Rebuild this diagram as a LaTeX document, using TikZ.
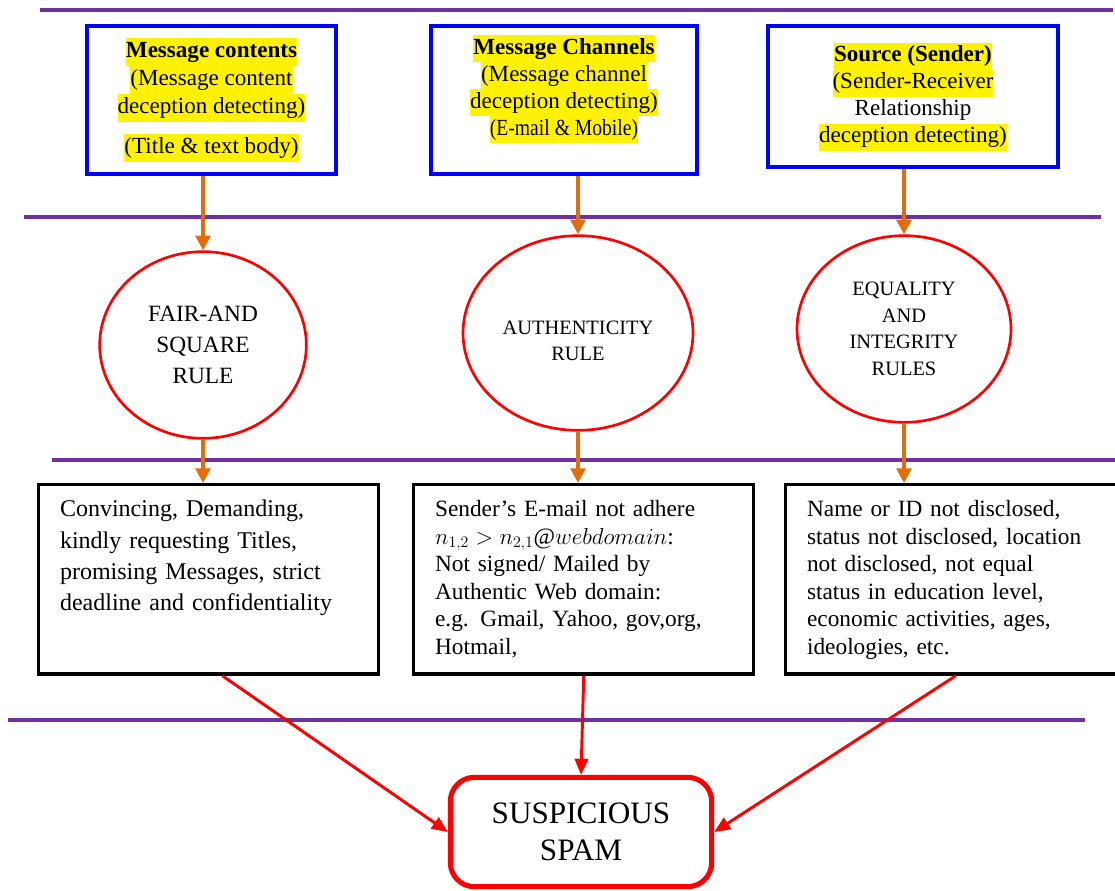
\documentclass[tikz,border=0pt]{standalone}
\usepackage{fontspec}
\setmainfont{Liberation Serif}
\usetikzlibrary{positioning, shapes.geometric, arrows.meta, calc}

\definecolor{sepcol}{HTML}{7030A0}
\definecolor{flowor}{HTML}{E46C0A}
\definecolor{boxblue}{HTML}{0000FF}

% yellow highlight of one line
\newcommand{\hy}[1]{{\setlength{\fboxsep}{0pt}\colorbox{yellow}{\strut #1}}}

\begin{document}
\begin{tikzpicture}[
	x=0.75pt, y=-0.75pt,
	% --- Styles ---
	topbox/.style={
		rectangle, draw=boxblue, line width=3pt, anchor=north west,
		inner sep=0pt, align=center, font=\fontsize{17.3}{20.25}\selectfont
	},
	rulebubble/.style={
		ellipse, draw=red, line width=2pt, inner sep=0pt, align=center,
		font=\fontsize{15.3}{20}\selectfont
	},
	cuebox/.style={
		rectangle, draw=black, line width=2.6pt, anchor=north west, align=left,
		text width=223pt, inner xsep=16pt, inner ysep=10pt,
		text height=14pt, text depth=108pt, font=\fontsize{17.5}{20.6}\selectfont
	},
	spambox/.style={
		rectangle, draw=red, line width=3.8pt, rounded corners=18pt,
		minimum width=196pt, minimum height=82pt, align=center,
		font=\fontsize{23.4}{27.75}\selectfont
	},
	sepline/.style={draw=sepcol, line width=3pt},
	feed/.style={draw=flowor, line width=2.8pt, -{Triangle[length=11pt,width=11pt]}},
	verdict/.style={draw=red, line width=2.2pt, -{Triangle[length=12pt,width=10pt]}}
	]
	\useasboundingbox (0,0) rectangle (1115,890);
	
	% --- Separator lines ---
	\draw [sepline] (40,9.5) -- (1113,9.5);
	\draw [sepline] (24,217) -- (1101,217);
	\draw [sepline] (52,460) -- (1115,460);
	\draw [sepline] (8,720) -- (1085,720);
	
	% --- 1. Deception sources ---
	\node [topbox, minimum width=186.75pt, minimum height=111pt, font=\fontsize{17.3}{21}\selectfont] (content) at (85,24)
	{\hy{\textbf{Message contents}}\\\hy{(Message content}\\\hy{deception detecting)}\\[9pt]\hy{(Title \& text body)}};
	\node [topbox, minimum width=199.5pt, minimum height=111pt] (channel) at (429,24)
	{\hy{\textbf{Message Channels}}\\\hy{(Message channel}\\\hy{deception detecting)}\\\hy{\scalebox{0.85}[1]{(E-mail \& Mobile)}}\rule[-22pt]{0pt}{0pt}};
	\node [topbox, minimum width=217.5pt, minimum height=105.75pt] (sender) at (766,24)
	{\hy{\textbf{Source (Sender)}}\\\hy{(Sender-Receiver}\\\strut Relationship\\\hy{deception detecting)}};
	
	% --- 2. Rules ---
	\node [rulebubble, minimum width=155pt, minimum height=140pt, font=\fontsize{17.5}{23}\selectfont] (fair) at (203,345) {FAIR-AND\\SQUARE\\RULE};
	\node [rulebubble, minimum width=172.5pt, minimum height=146pt, font=\fontsize{15.3}{19}\selectfont] (auth) at (578,333) {\rule{0pt}{22pt}AUTHENTICITY\\RULE};
	\node [rulebubble, minimum width=160.5pt, minimum height=140pt] (equal) at (904,329) {EQUALITY\\AND\\INTEGRITY\\RULES};
	
	% --- 3. Cues ---
	\node [cuebox, font=\fontsize{18}{23.5}\selectfont] (cues) at (37,483)
	{Convincing, Demanding,\\kindly requesting Titles,\\promising Messages, strict\\deadline and confidentiality};
	\node [cuebox] (checks) at (412,483)
	{Sender’s E-mail not adhere\\$n_{1,2} > n_{2,1}@webdomain$:\\Not signed/ Mailed by\\Authentic Web domain:\\e.g. Gmail, Yahoo, gov,org,\\Hotmail,};
	\node [cuebox] (traits) at (784,483)
	{Name or ID not disclosed,\\status not disclosed, location\\not disclosed, not equal\\status in education level,\\economic activities, ages,\\ideologies, etc.};
	
	% --- 4. Verdict ---
	\node [spambox] (spam) at (581,832) {SUSPICIOUS\\SPAM};
	
	% --- Connections ---
	\draw [feed] (fair.north |- content.south) -- (fair.north);
	\draw [feed] (auth.north |- channel.south) -- (auth.north);
	\draw [feed] (equal.north |- sender.south) -- (equal.north);
	
	\draw [feed] (fair.south) -- (fair.south |- cues.north);
	\draw [feed] (auth.south) -- (auth.south |- checks.north);
	\draw [feed] (equal.south) -- (equal.south |- traits.north);
	
	\draw [verdict] ($(cues.south west)!0.54!(cues.south east)$) -- (spam.west);
	\draw [verdict] (checks.south) -- (spam.north);
	\draw [verdict] (traits.south) -- (spam.east);
	
\end{tikzpicture}
\end{document}
